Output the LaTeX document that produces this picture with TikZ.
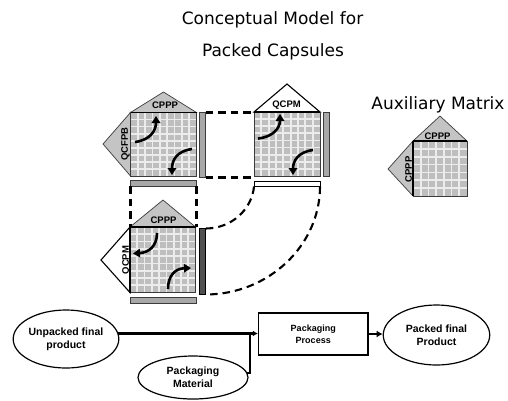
\documentclass[tikz,border=0pt]{standalone}
\usepackage{fontspec}
\setmainfont{Liberation Sans}
\newfontfamily\headfont{DejaVu Sans}
\usetikzlibrary{shapes.geometric,arrows.meta}

\definecolor{cellgray}{RGB}{190,190,190}
\definecolor{gapgray}{RGB}{236,236,236}
\definecolor{trigray}{RGB}{196,196,196}
\definecolor{bargray}{RGB}{168,168,168}
\definecolor{bardark}{RGB}{80,80,80}
\definecolor{edgegray}{RGB}{60,60,60}

\tikzset{
  headtxt/.style={font=\headfont\fontsize{17}{20}\selectfont, inner sep=0pt},
  lbl/.style={font=\bfseries\fontsize{9.5}{10}\selectfont, inner sep=0pt},
  gridln/.style={draw=gapgray, line width=1.7pt},
  sqbox/.style={draw=edgegray, line width=0.8pt},
  topedge/.style={draw=black, line width=1.6pt},
  graytri/.style={fill=trigray, draw=edgegray, line width=0.7pt},
  whitetri/.style={fill=white, draw=black, line width=1.1pt},
  lightbar/.style={fill=bargray, draw=edgegray, line width=0.6pt},
  darkbar/.style={fill=bardark, draw=black, line width=0.6pt},
  whitebar/.style={fill=white, draw=black, line width=0.7pt},
  dashlink/.style={line width=2.1pt, dash pattern=on 7.5pt off 5pt},
  turn/.style={line width=2.6pt, -{Triangle[length=7pt,width=8.5pt]}},
  oval/.style={ellipse, draw, line width=1.2pt, inner sep=0pt, align=center,
    font=\bfseries\fontsize{10.5}{13.3}\selectfont},
  procbox/.style={rectangle, draw, line width=1.4pt, inner sep=0pt, align=center,
    font=\bfseries\fontsize{9}{12.4}\selectfont},
  flow/.style={line width=2.4pt},
}

% grid of square cells: x0, y0, x1, y1, number of cells per side
\newcommand{\cellgrid}[5]{%
  \fill[cellgray] (#1,#2) rectangle (#3,#4);
  \pgfmathtruncatemacro{\nlines}{#5-1}
  \foreach \k in {1,...,\nlines}{
    \draw[gridln] ({#1+(#3-#1)*\k/#5},#2) -- ({#1+(#3-#1)*\k/#5},#4);
    \draw[gridln] (#1,{#2+(#4-#2)*\k/#5}) -- (#3,{#2+(#4-#2)*\k/#5});
  }%
}
% rectangular node given by its corners: name, x0, y0, x1, y1, style
\newcommand{\cornernode}[6]{%
  \node[#6, inner sep=0pt, outer sep=0pt, minimum width={(#4)-(#2)},
    minimum height={(#5)-(#3)}] (#1) at ({((#2)+(#4))/2},{((#3)+(#5))/2}) {};%
}

\begin{document}
\begin{tikzpicture}[x=1pt, y=-1pt]
\useasboundingbox (0,0) rectangle (508,400);

% headings
\node[headtxt] (title1) at (272.5,20) {Conceptual Model for};
\node[headtxt] (title2) at (273,52) {Packed Capsules};
\node[headtxt] (auxtitle) at (438,105) {Auxiliary Matrix};

% ---- matrix with CPPP / QCFPB ----
\filldraw[graytri] (130.5,112.5) -- (163.5,92) -- (196.5,112.5) -- cycle;
\filldraw[graytri] (130.5,112.5) -- (103,144) -- (130.5,176) -- cycle;
\cellgrid{130.5}{112.5}{196.5}{176}{9}
\cornernode{m1sq}{130.5}{112.5}{196.5}{176}{sqbox}
\draw[topedge] (m1sq.north west) -- (m1sq.north east);
\cornernode{m1r}{199.5}{112.5}{205.5}{177.5}{lightbar}
\cornernode{m1b}{130.5}{180.5}{196.5}{186}{lightbar}
\node[lbl] (m1top) at (165,105.5) {CPPP};
\node[lbl, rotate=90] (m1left) at (125.5,144) {QCFPB};
\draw[turn] (135,142) .. controls (150,140) and (156,131) .. (156,116);
\draw[turn] (192,149) .. controls (177,151) and (172,160) .. (172,175);

% ---- matrix with QCPM on top ----
\filldraw[whitetri] (254,112) -- (287,84) -- (320,112) -- cycle;
\cellgrid{254}{112}{320}{176}{9}
\cornernode{m2sq}{254}{112}{320}{176}{sqbox}
\draw[topedge] (m2sq.north west) -- (m2sq.north east);
\cornernode{m2r}{323.5}{112}{329}{176}{lightbar}
\cornernode{m2b}{254}{181}{320}{186.5}{whitebar}
\node[lbl] (m2top) at (286.5,105.5) {QCPM};
\draw[turn] (258,138.5) .. controls (273,137) and (280,128) .. (280,114);
\draw[turn] (313,150) .. controls (298,152) and (293,161) .. (293,175);

% ---- matrix with CPPP / QCPM ----
\filldraw[graytri] (130,227) -- (163,200) -- (195.5,227) -- cycle;
\filldraw[whitetri] (130,227) -- (101,260) -- (130,292.5) -- cycle;
\cellgrid{130}{227}{195.5}{292.5}{9}
\cornernode{m4sq}{130}{227}{195.5}{292.5}{sqbox}
\draw[topedge] (m4sq.north west) -- (m4sq.north east);
\draw[draw=black, line width=1.4pt] (m4sq.north west) -- (m4sq.south west);
\cornernode{m4r}{199.5}{228.5}{205.5}{294.5}{darkbar}
\cornernode{m4b}{130}{297.5}{196}{303}{lightbar}
\node[lbl] (m4top) at (163.5,220) {CPPP};
\node[lbl, rotate=90] (m4left) at (126.5,260) {QCPM};
\draw[turn] (157,233) .. controls (157,246) and (149,252.5) .. (133,253.5);
\draw[turn] (168,289) .. controls (168,276) and (175,268.5) .. (191,268);

% ---- auxiliary matrix ----
\filldraw[graytri] (413,141) -- (440,116) -- (467,141) -- cycle;
\filldraw[graytri] (413,141) -- (388,169) -- (413,196) -- cycle;
\cellgrid{413}{141}{467}{196}{7}
\cornernode{auxsq}{413}{141}{467}{196}{sqbox}
\draw[topedge] (auxsq.north west) -- (auxsq.north east);
\draw[draw=black, line width=1.2pt] (auxsq.north west) -- (auxsq.south west);
\node[lbl] (auxtop) at (437.5,136.5) {CPPP};
\node[lbl, rotate=90] (auxleft) at (408.5,169.5) {CPPP};

% ---- dashed links between the matrices ----
\draw[dashlink] (m1r.north east) -- (m1r.north east -| m2sq.west);
\draw[dashlink] (m1r.south east) -- (m1r.south east -| m2sq.west);
\draw[dashlink] (m1b.south west) -- (m1b.south west |- m4sq.north);
\draw[dashlink] (m1b.south east) -- (m1b.south east |- m4sq.north);
\draw[dashlink] (m2b.south west) .. controls +(-2,22) and +(27,0) .. (m4r.north east);
\draw[dashlink] (m2b.south east) .. controls +(0,59) and +(63,0) .. (m4r.south east);

% ---- process flow ----
\node[oval, minimum width=105pt, minimum height=58pt] (unpacked) at (66,339) {Unpacked final\\product};
\node[oval, minimum width=110pt, minimum height=43pt] (material) at (193,377.5) {Packaging\\Material};
\node[procbox, minimum width=109.5pt, minimum height=42pt] (process) at (313.25,334) {Packaging\\Process};
\node[oval, minimum width=106.5pt, minimum height=60pt] (packed) at (436.5,335) {Packed final\\Product};

\coordinate (jx) at (250,0);
\coordinate (join) at (unpacked.6 -| jx);
\draw[flow, -{Latex[length=5pt,width=6pt]}] (unpacked.6) -- (unpacked.6 -| process.west);
\draw[flow] (material.5) -| (join);
\draw[flow, -{Latex[length=6pt,width=7pt]}] (process.east) -- (process.east -| packed.west);
\end{tikzpicture}
\end{document}
